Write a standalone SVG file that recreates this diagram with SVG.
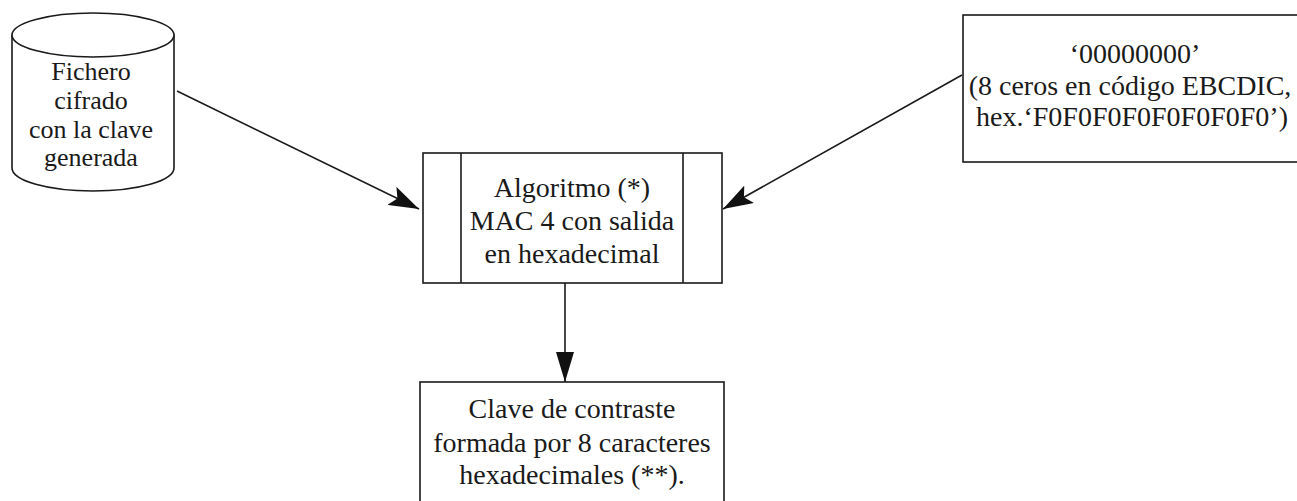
<svg xmlns="http://www.w3.org/2000/svg" width="1297" height="501" viewBox="0 0 1297 501">
<defs>
<style>
.ln{fill:none;stroke:#1a1a1a;stroke-width:1.6}
.bx{fill:#ffffff;stroke:#1a1a1a;stroke-width:1.6}
.t{font-family:'Liberation Serif','Tinos','Times New Roman','DejaVu Serif',serif;fill:#1a1a1a;text-anchor:middle}
.t27{font-size:28px}
.t25{font-size:26px}
</style>
<marker id="ah" viewBox="0 0 30 20" refX="30" refY="10" markerWidth="30" markerHeight="20" markerUnits="userSpaceOnUse" orient="auto">
<path d="M0,0 L30,10 L0,20 L6,10 Z" fill="#111"/>
</marker>
<marker id="ahv" viewBox="0 0 18 30" refX="9" refY="30" markerWidth="18" markerHeight="30" markerUnits="userSpaceOnUse" orient="0">
<path d="M0,0 L18,0 L9,30 Z" fill="#111"/>
</marker>
</defs>
<rect width="1297" height="501" fill="#ffffff"/>
<g id="connectors">
<line class="ln" x1="177" y1="91" x2="419" y2="209" marker-end="url(#ah)"/>
<line class="ln" x1="962" y1="75" x2="723" y2="209" marker-end="url(#ah)"/>
<line class="ln" x1="565" y1="283" x2="565" y2="382" marker-end="url(#ahv)"/>
</g>
<g id="cylinder">
<path class="bx" d="M12,35 L12,168 A81,23 0 0 0 174,168 L174,35"/>
<ellipse class="bx" cx="93" cy="35" rx="81" ry="22"/>
<text class="t t25" x="91" y="80" font-family="Liberation Serif, serif">Fichero</text>
<text class="t t25" x="91" y="109">cifrado</text>
<text class="t t25" x="91" y="138">con la clave</text>
<text class="t t25" x="91" y="166">generada</text>
</g>
<g id="constant">
<rect class="bx" x="963" y="15" width="360" height="147"/>
<text class="t t27" x="1135" y="63">‘00000000’</text>
<text class="t t27" x="1130" y="95">(8 ceros en código EBCDIC,</text>
<text class="t t27" x="1132" y="126">hex.‘F0F0F0F0F0F0F0F0’)</text>
</g>
<g id="algorithm">
<rect class="bx" x="423" y="153" width="299" height="130"/>
<line class="ln" x1="461" y1="153" x2="461" y2="283"/>
<line class="ln" x1="683" y1="153" x2="683" y2="283"/>
<text class="t t27" x="572" y="197">Algoritmo (*)</text>
<text class="t t27" x="572" y="230">MAC 4 con salida</text>
<text class="t t27" x="572" y="263">en hexadecimal</text>
</g>
<g id="result">
<rect class="bx" x="420" y="382" width="304" height="140"/>
<text class="t t27" x="572" y="418">Clave de contraste</text>
<text class="t t27" x="572" y="452">formada por 8 caracteres</text>
<text class="t t27" x="572" y="484">hexadecimales (**).</text>
</g>
</svg>
